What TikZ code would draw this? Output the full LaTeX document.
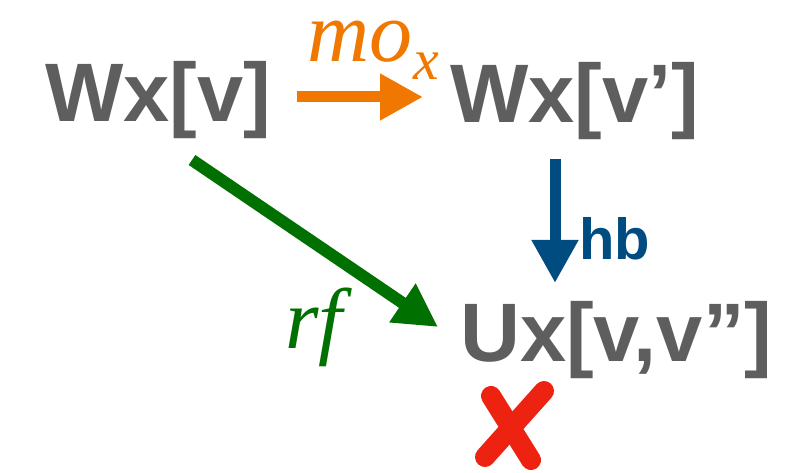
\documentclass[tikz,border=0pt]{standalone}
\usepackage{fontspec}
\setmainfont{Liberation Sans}
\newfontfamily\lserif{Liberation Serif}
\usetikzlibrary{arrows.meta}
\definecolor{tgray}{HTML}{5E5E5E}
\definecolor{torange}{HTML}{F07800}
\definecolor{tgreen}{HTML}{007000}
\definecolor{tblue}{HTML}{004C80}
\definecolor{tred}{HTML}{EE2211}
\begin{document}
\begin{tikzpicture}[x=1pt,y=-1pt,
  lbl/.style={inner sep=0pt, anchor=base west, text=tgray, font=\fontsize{83}{90}\selectfont\bfseries},
  ital/.style={inner sep=0pt, anchor=base west, font=\lserif\itshape\fontsize{86}{90}\selectfont},
  conn/.style={line width=11pt, -{Triangle[length=43pt,width=44pt]}}]
\useasboundingbox (0,0) rectangle (801,473);
\node[lbl] (wv) at (45,122) {Wx[v]};
\node[lbl] (wvp) at (450,123) {Wx[v’]};
\node[lbl] (ux) at (460,361) {Ux[v,v”]};
% orange mo_x
\coordinate (moA) at (297,97);
\coordinate (moB) at (423,97);
\draw[conn, torange] (moA) -- (moB);
\node[ital, text=torange] (mo) at (307,62) {mo\kern1pt\raisebox{-18pt}{\fontsize{58}{60}\selectfont x}};
% blue hb
\coordinate (hbA) at (555,159);
\coordinate (hbB) at (555,283);
\draw[conn, tblue] (hbA) -- (hbB);
\node[inner sep=0pt, anchor=base west, text=tblue, font=\fontsize{58}{60}\selectfont\bfseries] (hb) at (579,260) {hb};
% green rf
\coordinate (rfA) at (192,160);
\coordinate (rfB) at (438,327);
\draw[conn, tgreen, line width=12pt] (rfA) -- (rfB);
\node[ital, text=tgreen] (rf) at (285,348) {rf};
% red cross
\coordinate (xa1) at (491,396);
\coordinate (xa2) at (531,460);
\coordinate (xb1) at (544,391);
\coordinate (xb2) at (485,457);
\draw[tred, line width=20pt, line cap=round] (xa1) -- (xa2);
\draw[tred, line width=20pt, line cap=round] (xb1) -- (xb2);
\end{tikzpicture}
\end{document}
